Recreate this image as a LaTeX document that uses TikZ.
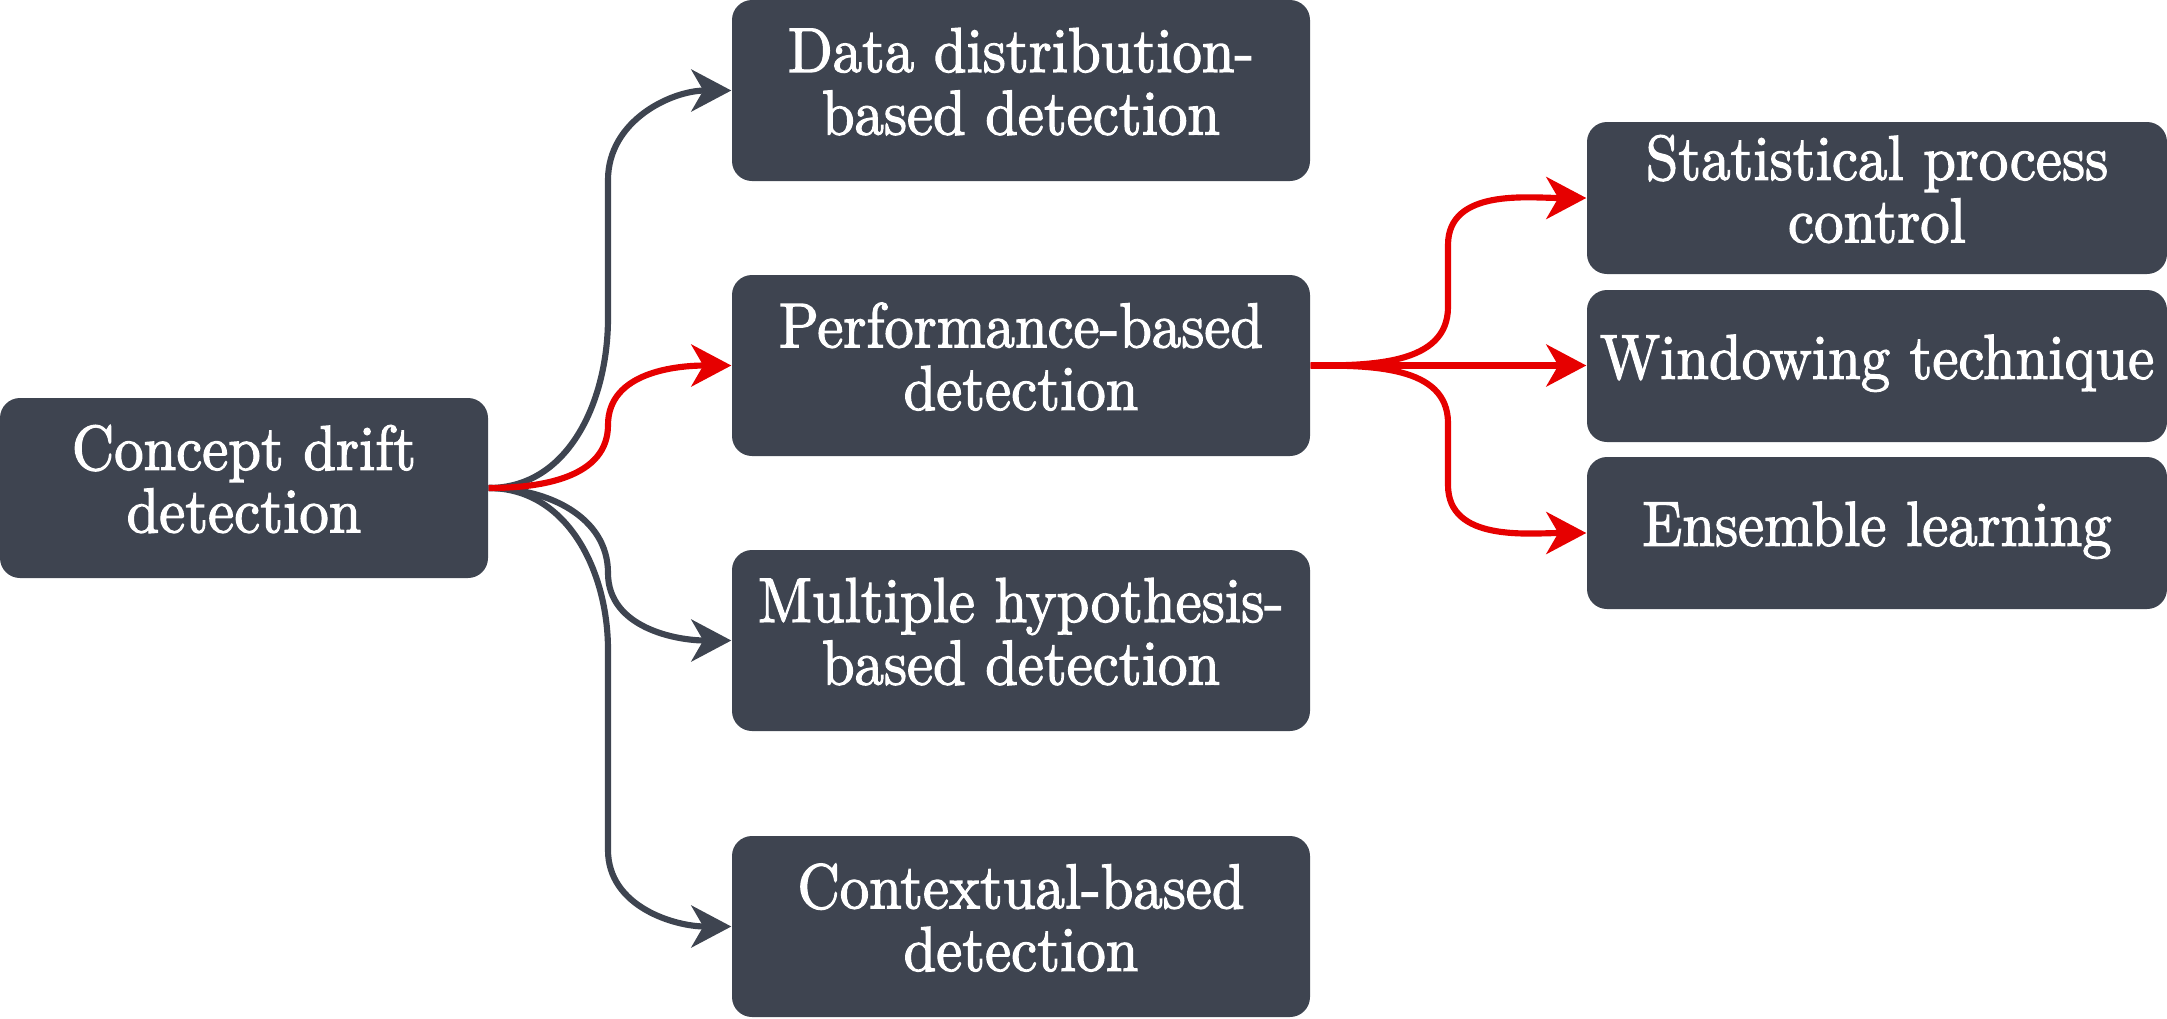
\documentclass[tikz,border=0pt]{standalone}
\usepackage{fontspec}
\usepackage{graphicx}
\newfontfamily\lblfont[FakeBold=2]{lmroman10-regular.otf}
\usetikzlibrary{arrows.meta}
\definecolor{boxc}{RGB}{62,68,80}
\definecolor{redc}{RGB}{230,0,0}
\newcommand\lbl[1]{\scalebox{1}[1.08]{\lblfont\fontsize{16.7}{16.3}\selectfont\begin{tabular}{@{}c@{}}#1\end{tabular}}}
\begin{document}
\begin{tikzpicture}[x=1cm,y=1cm,
 box/.style={fill=boxc, rounded corners=0.2cm, text=white, inner sep=0pt},
 midbox/.style={box, minimum width=5.78cm, minimum height=1.81cm},
 rbox/.style={box, minimum width=5.80cm, minimum height=1.52cm},
 gedge/.style={draw=boxc, line width=1.75pt, -{Stealth[length=0.40cm,width=0.42cm,inset=0.12cm]}},
 redge/.style={gedge, draw=redc}]
\useasboundingbox (0,0) rectangle (21.67,-10.18);
\node[box, minimum width=4.88cm, minimum height=1.80cm] (cd) at (2.44,-4.88) {\lbl{Concept drift\\detection}};
\node[midbox] (dd) at (10.21,-0.905) {\lbl{Data distribution-\\based detection}};
\node[midbox] (pb) at (10.21,-3.655) {\lbl{Performance-based\\detection}};
\node[midbox] (mh) at (10.21,-6.405) {\lbl{Multiple hypothesis-\\based detection}};
\node[midbox] (cb) at (10.21,-9.265) {\lbl{Contextual-based\\detection}};
\node[rbox] (sp) at (18.77,-1.98) {\lbl{Statistical process\\control}};
\node[rbox] (wt) at (18.77,-3.66) {\lbl{Windowing technique}};
\node[rbox] (el) at (18.77,-5.33) {\lbl{Ensemble learning}};
\coordinate (lb1) at (6.08,-3.18);
\coordinate (lb2) at (6.08,-1.80);
\coordinate (lb3) at (6.08,-5.73);
\coordinate (lb4) at (6.08,-6.50);
\coordinate (lb5) at (6.08,-8.50);
\coordinate (lb6) at (6.08,-4.25);
\coordinate (rb1) at (14.48,-3.07);
\coordinate (rb2) at (14.48,-2.45);
\coordinate (rb3) at (14.48,-4.23);
\coordinate (rb4) at (14.48,-4.85);
\draw[gedge] (cd.east) to[out=0,in=-90] (lb1) -- (lb2) to[out=90,in=180] (dd.west);
\draw[gedge] (cd.east) to[out=0,in=90] (lb3) to[out=-90,in=180] (mh.west);
\draw[gedge] (cd.east) to[out=0,in=90] (lb4) -- (lb5) to[out=-90,in=180] (cb.west);
\draw[redge] (cd.east) to[out=0,in=-90] (lb6) to[out=90,in=180] (pb.west);
\draw[redge] (pb.east) to[out=0,in=-90] (rb1) -- (rb2) to[out=90,in=180] (sp.west);
\draw[redge] (pb.east) -- (pb.east -| wt.west);
\draw[redge] (pb.east) to[out=0,in=90] (rb3) -- (rb4) to[out=-90,in=180] (el.west);
\end{tikzpicture}
\end{document}
